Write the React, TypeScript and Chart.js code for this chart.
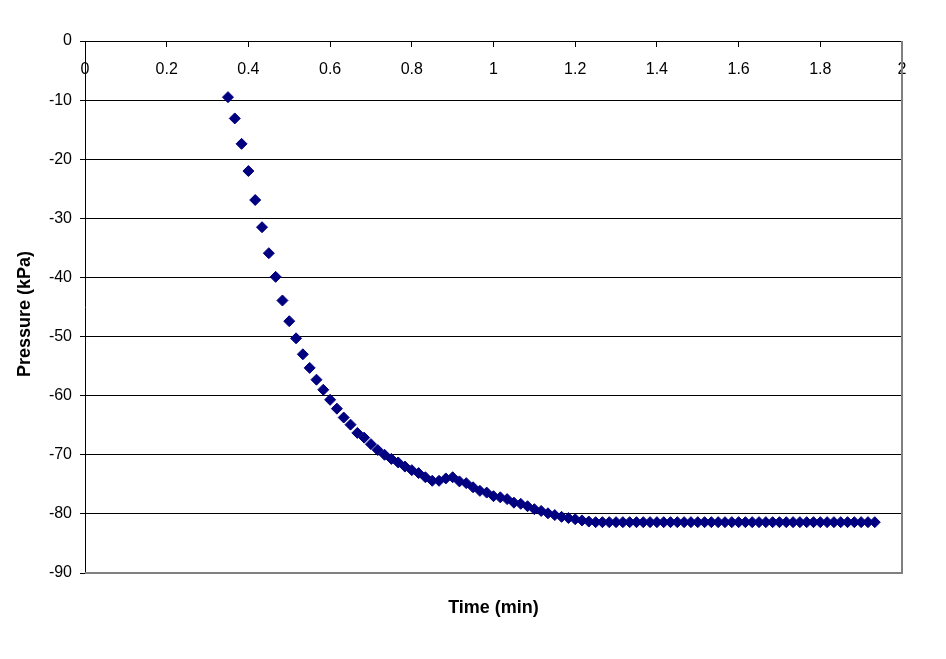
import { Chart, registerables, type ChartConfiguration, type Plugin } from 'chart.js'
import { useEffect, useRef } from 'react'

Chart.register(...registerables)

// elapsed time of each reading, seconds
const timeSeconds = [
  21, 22, 23, 24, 25, 26, 27, 28, 29, 30, 31, 32, 33, 34, 35, 36, 37, 38, 39, 40,
  41, 42, 43, 44, 45, 46, 47, 48, 49, 50, 51, 52, 53, 54, 55, 56, 57, 58, 59, 60,
  61, 62, 63, 64, 65, 66, 67, 68, 69, 70, 71, 72, 73, 74, 75, 76, 77, 78, 79, 80,
  81, 82, 83, 84, 85, 86, 87, 88, 89, 90, 91, 92, 93, 94, 95, 96, 97, 98, 99, 100,
  101, 102, 103, 104, 105, 106, 107, 108, 109, 110, 111, 112, 113, 114, 115, 116,
]

// pressure, kPa
const pressure = [
  -9.5, -13.1, -17.4, -22.0, -26.9, -31.5, -35.9, -39.9, -43.9, -47.4,
  -50.3, -53.0, -55.3, -57.3, -59.0, -60.7, -62.2, -63.7, -64.9, -66.3,
  -67.1, -68.2, -69.2, -70.0, -70.7, -71.3, -72.0, -72.6, -73.1, -73.8,
  -74.4, -74.4, -74.0, -73.8, -74.5, -74.8, -75.5, -76.1, -76.4, -77.0,
  -77.2, -77.5, -78.1, -78.3, -78.7, -79.2, -79.5, -79.9, -80.2, -80.5,
  -80.7, -80.9, -81.1, -81.3, -81.4, -81.4, -81.4, -81.4, -81.4, -81.4,
  -81.4, -81.4, -81.4, -81.4, -81.4, -81.4, -81.4, -81.4, -81.4, -81.4,
  -81.4, -81.4, -81.4, -81.4, -81.4, -81.4, -81.4, -81.4, -81.4, -81.4,
  -81.4, -81.4, -81.4, -81.4, -81.4, -81.4, -81.4, -81.4, -81.4, -81.4,
  -81.4, -81.4, -81.4, -81.4, -81.4, -81.4,
]

const xTitle = 'Time (min)'
const yTitle = 'Pressure (kPa)'

const fontFamily = '"Liberation Sans", Arial, sans-serif'

// grey frame on the right and bottom of the plot area, plus the two axis titles
const plotFrame: Plugin<'scatter'> = {
  id: 'plotFrame',
  beforeDatasetsDraw(chart) {
    const { ctx, chartArea } = chart
    ctx.save()
    ctx.strokeStyle = '#808080'
    ctx.lineWidth = 2
    ctx.beginPath()
    ctx.moveTo(chartArea.right, chartArea.top)
    ctx.lineTo(chartArea.right, chartArea.bottom)
    ctx.lineTo(chartArea.left, chartArea.bottom)
    ctx.stroke()

    ctx.fillStyle = '#000'
    ctx.font = `bold 18px ${fontFamily}`
    ctx.textAlign = 'center'
    ctx.textBaseline = 'middle'
    ctx.fillText(xTitle, (chartArea.left + chartArea.right) / 2, chartArea.bottom + 35)

    ctx.translate(25, (chartArea.top + chartArea.bottom) / 2 + 7)
    ctx.rotate(-Math.PI / 2)
    ctx.fillText(yTitle, 0, 0)
    ctx.restore()
  },
}

const chartConfig: ChartConfiguration<'scatter'> = {
  type: 'scatter',
  data: {
    datasets: [
      {
        label: 'Pressure',
        data: timeSeconds.map((s, i) => ({ x: s / 60, y: pressure[i] })),
        pointStyle: 'rectRot',
        pointRadius: 5.5,
        pointBackgroundColor: '#000080',
        pointBorderColor: '#000080',
        pointBorderWidth: 1,
      },
    ],
  },
  options: {
    responsive: true,
    maintainAspectRatio: false,
    animation: false,
    layout: {
      padding: { left: 0, top: 41, right: 44, bottom: 86 },
    },
    plugins: {
      legend: { display: false },
      tooltip: { enabled: false },
    },
    scales: {
      x: {
        type: 'linear',
        position: { y: 0 },
        min: 0,
        max: 2,
        ticks: {
          stepSize: 0.2,
          color: '#000',
          font: { family: fontFamily, size: 16 },
          padding: 14,
          maxRotation: 0,
          callback: (value) => String(Math.round(Number(value) * 10) / 10),
        },
        grid: {
          drawOnChartArea: false,
          drawTicks: true,
          tickLength: 5,
          tickColor: '#000',
        },
        border: { color: '#000', width: 1 },
      },
      y: {
        min: -90,
        max: 0,
        afterFit(scale) {
          scale.width = 85
        },
        ticks: {
          stepSize: 10,
          color: '#000',
          font: { family: fontFamily, size: 16 },
          padding: 8,
        },
        grid: {
          color: '#000',
          lineWidth: 1,
          tickLength: 5,
          tickColor: '#000',
        },
        border: { color: '#000', width: 1 },
      },
    },
  },
  plugins: [plotFrame],
}

export default function App() {
  const canvasRef = useRef<HTMLCanvasElement | null>(null)

  useEffect(() => {
    if (!canvasRef.current) {
      return
    }

    const chart = new Chart(canvasRef.current, chartConfig)

    return () => {
      chart.destroy()
    }
  }, [])

  return (
    <div style={{ position: 'absolute', left: 0, top: 0, width: 946, height: 659, background: '#fff' }}>
      <canvas ref={canvasRef} aria-label="Pressure versus time scatter chart" />
    </div>
  )
}
